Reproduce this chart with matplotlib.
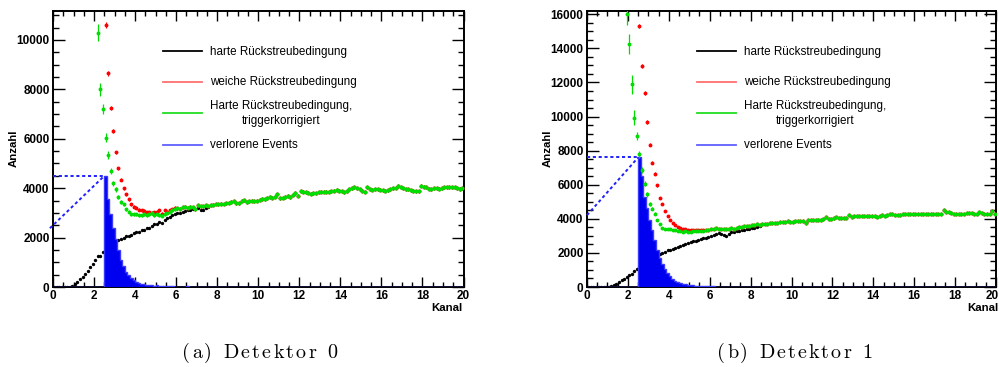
import numpy as np
import matplotlib
matplotlib.use("Agg")
import matplotlib.pyplot as plt
import matplotlib.transforms as mtransforms
from matplotlib.ticker import MultipleLocator

# ---------------------------------------------------------------- data
BIN_WIDTH = 0.125
N_BINS = 160
X_MAX = 20.0
POINT_ERR = 60          # typical error bar on the plateau points

x_ticks = [0, 2, 4, 6, 8, 10, 12, 14, 16, 18, 20]
left_y_ticks = [0, 2000, 4000, 6000, 8000, 10000]
right_y_ticks = [0, 2000, 4000, 6000, 8000, 10000, 12000, 14000, 16000]

legend_labels = ["harte Rückstreubedingung",
                 "weiche Rückstreubedingung",
                 "Harte Rückstreubedingung,\ntriggerkorrigiert",
                 "verlorene Events"]
captions = ["(a) Detektor 0", "(b) Detektor 1"]

# ---- Detektor 0
# plateau shared by all conditions (bins 48..159)
left_common = [3180, 3160, 3220, 3240, 3200, 3250, 3230, 3150, 3300, 3260, 3270, 3300,
               3280, 3310, 3330, 3360, 3350, 3370, 3360, 3400, 3420, 3450, 3480, 3390,
               3400, 3490, 3520, 3440, 3480, 3500, 3470, 3500, 3540, 3580, 3560, 3620,
               3650, 3610, 3660, 3760, 3600, 3620, 3660, 3690, 3640, 3730, 3820, 3690,
               3870, 3850, 3830, 3820, 3770, 3790, 3800, 3830, 3850, 3860, 3850, 3860,
               3870, 3900, 3930, 3900, 3880, 3830, 3880, 3950, 3990, 4030, 3990, 3950,
               3900, 3860, 4030, 3960, 3930, 3950, 3960, 3930, 3920, 3900, 3910, 3950,
               3990, 4020, 4090, 4030, 3990, 3960, 3950, 3910, 3890, 3870, 3880, 4100,
               4060, 4030, 3970, 3950, 3990, 4000, 3980, 4000, 4030, 4040, 4030, 4040,
               4040, 4000, 3950, 3990]
LEFT_COMMON_START = 48
# harte Rückstreubedingung, bins 0..60
left_hard_head = [0, 0, 0, 0, 0, 0, 10, 50, 120, 210, 310, 410, 530, 660, 800, 950,
                  1080, 1250, 1260, 1400, 1550, 1650, 1750, 1820, 1870, 1900, 1950,
                  2000, 2050, 2060, 2120, 2180, 2230, 2240, 2300, 2320, 2380, 2400,
                  2470, 2540, 2560, 2650, 2600, 2700, 2780, 2850, 2920, 2950, 2980,
                  3000, 3020, 3080, 3100, 3130, 3150, 3170, 3190, 3120, 3100, 3200, 3250]
# weiche Rückstreubedingung, bins 20..47
LEFT_SOFT_START = 20
left_soft_head = [10600, 8650, 7250, 6300, 5450, 4800, 4350, 4000, 3750, 3550, 3350,
                  3250, 3200, 3130, 3100, 3080, 3020, 3030, 3000, 3020, 3050, 3100,
                  2960, 3100, 3050, 3100, 3150, 3200]
left_soft_err = [110, 100, 90, 80, 75, 70]
# triggerkorrigiert, bins 17..47
LEFT_CORR_START = 17
left_corr_head = [10300, 8000, 7200, 6050, 5350, 4700, 4200, 3950, 3650, 3450, 3350,
                  3150, 3050, 2950, 2950, 2950, 2900, 2900, 2950, 2900, 2950, 2980,
                  2900, 2950, 2900, 2880, 2950, 3000, 3050, 3100, 3150]
left_corr_err = [340, 270, 200, 170, 150, 130, 110, 100, 90, 80]
# verlorene Events, bins 20..
LEFT_LOST_START = 20
left_lost = [4500, 3550, 2950, 2400, 1930, 1480, 1090, 830, 615, 480, 360, 290, 210,
             165, 135, 110, 100, 90, 70, 60, 70, 50, 40, 35, 30, 25, 30, 20, 15, 20,
             10, 15, 25, 10, 5, 10, 5, 0, 10, 5, 0, 5, 0, 0, 5]
left_guide_x = [-0.15, 2.5]
left_guide_y = [2380, 4500]

# ---- Detektor 1
right_common = [3380, 3420, 3450, 3400, 3390, 3420, 3400, 3430, 3450, 3420, 3480, 3500,
                3520, 3580, 3560, 3600, 3620, 3640, 3680, 3660, 3700, 3720, 3700, 3740,
                3730, 3760, 3780, 3800, 3790, 3820, 3850, 3830, 3840, 3870, 3860, 3880,
                3870, 3750, 3940, 3920, 3950, 3930, 3960, 3950, 3980, 4110, 3990, 4000,
                4020, 4080, 4060, 4070, 4040, 4030, 4220, 4120, 4150, 4140, 4170, 4160,
                4180, 4190, 4170, 4160, 4150, 4120, 4180, 4220, 4190, 4250, 4300, 4270,
                4240, 4250, 4240, 4260, 4280, 4270, 4290, 4300, 4280, 4290, 4300, 4310,
                4300, 4290, 4300, 4300, 4290, 4300, 4310, 4500, 4420, 4380, 4340, 4300,
                4290, 4310, 4300, 4310, 4350, 4360, 4330, 4290, 4260, 4400, 4350, 4310,
                4280, 4300, 4460, 4270]
RIGHT_COMMON_START = 48
right_hard_head = [0, 0, 0, 0, 0, 0, 0, 0, 0, 30, 100, 200, 290, 390, 490, 590, 690,
                   790, 920, 1060, 1170, 1300, 1450, 1550, 1650, 1750, 1800, 1850,
                   1930, 1980, 2050, 2150, 2200, 2250, 2280, 2350, 2400, 2480, 2550,
                   2600, 2650, 2700, 2720, 2760, 2820, 2850, 2900, 2960, 3000, 3050,
                   3100, 3150, 3130, 3050, 3000, 3100, 3200, 3230, 3260, 3300, 3320,
                   3340, 3380, 3400, 3450, 3480, 3530, 3560]
RIGHT_SOFT_START = 20
right_soft_head = [15300, 12950, 11390, 9670, 8360, 7300, 6650, 5970, 5250, 4850, 4450,
                   4150, 3950, 3780, 3640, 3540, 3480, 3420, 3380, 3360, 3350, 3340,
                   3330, 3340, 3330, 3330, 3350, 3340]
right_soft_err = [130, 120, 110, 100, 90, 85, 80, 75]
RIGHT_CORR_START = 15
right_corr_head = [16000, 14280, 11890, 9930, 8850, 7790, 6850, 6070, 5440, 4890, 4600,
                   4300, 3910, 3680, 3460, 3400, 3400, 3380, 3370, 3350, 3300, 3270,
                   3250, 3280, 3230, 3250, 3260, 3280, 3290, 3300, 3310, 3330, 3330]
right_corr_err = [600, 590, 540, 440, 250, 200, 180, 150, 130, 110, 100, 90]
RIGHT_LOST_START = 20
right_lost = [7600, 6500, 5300, 4650, 3950, 3330, 2740, 2150, 1720, 1350, 1050, 800,
              620, 480, 360, 280, 220, 180, 150, 130, 110, 100, 80, 70, 60, 60, 50, 40,
              35, 30, 25, 20, 15, 20, 10, 10, 5, 10, 5, 0, 5, 0, 0, 5, 0, 5]
right_guide_x = [0.0, 2.5]
right_guide_y = [4210, 7600]

# ---------------------------------------------------------------- helpers
edges = np.linspace(0, X_MAX, N_BINS + 1)
centers = 0.5 * (edges[:-1] + edges[1:])
X_ERR_DRAWN = 0.045     # half-length of the small horizontal marker arms


def series(head, start, common, common_start):
    arr = np.full(N_BINS, np.nan)
    head = np.asarray(head, float)
    arr[start:start + len(head)] = head
    tail_from = start + len(head)
    arr[tail_from:] = np.asarray(common, float)[tail_from - common_start:]
    return arr


def errors(head_err, start):
    arr = np.full(N_BINS, float(POINT_ERR))
    arr[start:start + len(head_err)] = head_err
    return arr


def lost_hist(vals, start):
    arr = np.zeros(N_BINS)
    arr[start:start + len(vals)] = vals
    return arr


FONT = "Liberation Sans"
FIG_W, FIG_H = 999, 367

fig = plt.figure(figsize=(FIG_W / 100, FIG_H / 100), dpi=100)
renderer = fig.canvas.get_renderer()


def spaced_caption(cx_px, baseline_px, s, total_px, **kw):
    """Draw letter-spaced text centred at cx_px with given total width."""
    def width(txt):
        t = fig.text(0, 0, txt, **kw)
        w = t.get_window_extent(renderer).width
        t.remove()
        return w
    ref = width("x")
    offs = [width(s[:i] + "x") - ref if i > 0 else 0.0 for i in range(len(s))]
    natural = width(s)
    extra = (total_px - natural) / (len(s) - 1)
    left = cx_px - total_px / 2
    for i, ch in enumerate(s):
        if ch == " ":
            continue
        fig.text((left + offs[i] + i * extra) / FIG_W, (FIG_H - baseline_px) / FIG_H,
                 ch, ha="left", va="baseline", **kw)


panels = [
    dict(box=(53, 11, 463.5, 287), ymax=11174, yticks=left_y_ticks,
         hard=series(left_hard_head, 0, left_common, LEFT_COMMON_START),
         soft=series(left_soft_head, LEFT_SOFT_START, left_common, LEFT_COMMON_START),
         soft_err=errors(left_soft_err, LEFT_SOFT_START),
         corr=series(left_corr_head, LEFT_CORR_START, left_common, LEFT_COMMON_START),
         corr_err=errors(left_corr_err, LEFT_CORR_START),
         lost=lost_hist(left_lost, LEFT_LOST_START),
         gx=left_guide_x, gy=left_guide_y, last_label_shift=0,
         ylabel_pos=(13.5, 148), xlabel_pos=(463, 308), caption_pos=(259.5, 358.3),
         caption=captions[0]),
    dict(box=(587, 11, 996, 287), ymax=16195, yticks=right_y_ticks,
         hard=series(right_hard_head, 0, right_common, RIGHT_COMMON_START),
         soft=series(right_soft_head, RIGHT_SOFT_START, right_common, RIGHT_COMMON_START),
         soft_err=errors(right_soft_err, RIGHT_SOFT_START),
         corr=series(right_corr_head, RIGHT_CORR_START, right_common, RIGHT_COMMON_START),
         corr_err=errors(right_corr_err, RIGHT_CORR_START),
         lost=lost_hist(right_lost, RIGHT_LOST_START),
         gx=right_guide_x, gy=right_guide_y, last_label_shift=-4,
         ylabel_pos=(548, 148), xlabel_pos=(999, 308), caption_pos=(794.5, 358.3),
         caption=captions[1]),
]

RED = "#ff0000"
GREEN = "#00dd00"
BLUE = "#0000f0"

for p in panels:
    l, t, r, b = p["box"]
    ax = fig.add_axes([l / FIG_W, (FIG_H - b) / FIG_H, (r - l) / FIG_W, (b - t) / FIG_H])
    ax.set_xlim(0, X_MAX)
    ax.set_ylim(0, p["ymax"])

    # harte Rückstreubedingung (black)
    m = ~np.isnan(p["hard"])
    ax.errorbar(centers[m], p["hard"][m], xerr=X_ERR_DRAWN, yerr=35, fmt="o", ms=1.4,
                color="black", elinewidth=0.7, capsize=0, zorder=2)
    # verlorene Events (blue histogram)
    ax.stairs(p["lost"], edges, fill=True, color=BLUE, zorder=3)
    ax.stairs(p["lost"], edges, fill=False, color="#3a3aff", lw=1.0, zorder=3.1)
    # weiche Rückstreubedingung (red)
    m = ~np.isnan(p["soft"])
    ax.errorbar(centers[m], p["soft"][m], xerr=X_ERR_DRAWN, yerr=p["soft_err"][m],
                fmt="o", ms=1.8, color=RED, elinewidth=0.8, capsize=0, zorder=4)
    # triggerkorrigiert (green)
    m = ~np.isnan(p["corr"])
    ax.errorbar(centers[m], p["corr"][m], xerr=X_ERR_DRAWN, yerr=p["corr_err"][m],
                fmt="o", ms=1.8, color=GREEN, elinewidth=0.9, capsize=0, zorder=5)
    # guide lines
    peak = max(p["lost"])
    ax.plot([0, edges[np.argmax(p["lost"])]], [peak, peak], color="#2020ff",
            ls=(0, (1.6, 1.4)), lw=1.4, zorder=6, clip_on=False)
    ax.plot(p["gx"], p["gy"], color="#2020ff", ls=(0, (1.6, 1.4)), lw=1.4, zorder=6,
            clip_on=False)

    # axes styling
    for s in ax.spines.values():
        s.set_linewidth(1.4)
    ax.set_xticks(x_ticks)
    ax.set_yticks(p["yticks"])
    ax.xaxis.set_minor_locator(MultipleLocator(0.5))
    ax.yaxis.set_minor_locator(MultipleLocator(500))
    ax.tick_params(which="both", direction="in", top=True, right=True, width=1.0,
                   labelsize=8.5, pad=2.5)
    ax.tick_params(axis="y", which="major", length=8.5)
    ax.tick_params(axis="y", which="minor", length=4)
    ax.tick_params(axis="x", which="major", length=7.5)
    ax.tick_params(axis="x", which="minor", length=3.8)
    for lab in ax.get_xticklabels() + ax.get_yticklabels():
        lab.set_fontfamily(FONT)
        lab.set_fontweight("bold")
    if p["last_label_shift"]:
        last = ax.get_xticklabels()[-1]
        last.set_transform(last.get_transform() + mtransforms.ScaledTranslation(
            p["last_label_shift"] / 100, 0, fig.dpi_scale_trans))

    # legend (drawn by hand, ROOT style)
    def ax_frac(px, py):
        return (px - l) / (r - l), (b - py) / (b - t)

    leg_colors = ["black", "#ff7070", "#22dd22", "#6060ff"]
    leg_y = [51, 81.5, 113, 145]
    text_y = [51.5, 82.3, 106, 144.5]
    for i, (c, yy) in enumerate(zip(leg_colors, leg_y)):
        x0, y0 = ax_frac(l + 110.3, yy)
        x1, _ = ax_frac(l + 149, yy)
        ax.plot([x0, x1], [y0, y0], transform=ax.transAxes, color=c, lw=1.3,
                clip_on=False, zorder=7)
    for i, lab in enumerate(legend_labels):
        if "\n" in lab:
            first, second = lab.split("\n")
            xx, yy = ax_frac(l + 157, text_y[i])
            ax.text(xx, yy, first, transform=ax.transAxes, fontsize=8.4,
                    family=FONT, va="center", ha="left", zorder=8)
            xc, yc = ax_frac(l + 228, 121)
            ax.text(xc, yc, second, transform=ax.transAxes, fontsize=8.4,
                    family=FONT, va="center", ha="center", zorder=8)
        else:
            xx, yy = ax_frac(l + 157, text_y[i])
            ax.text(xx, yy, lab, transform=ax.transAxes, fontsize=8.4,
                    family=FONT, va="center", ha="left", zorder=8)

    # axis titles
    fx, fy = p["ylabel_pos"]
    fig.text(fx / FIG_W, (FIG_H - fy) / FIG_H, "Anzahl", rotation=90, ha="center",
             va="center", fontsize=8.2, fontweight="bold", family=FONT)
    fx, fy = p["xlabel_pos"]
    fig.text(fx / FIG_W, (FIG_H - fy) / FIG_H, "Kanal", ha="right", va="center",
             fontsize=8.2, fontweight="bold", family=FONT)
    fx, fy = p["caption_pos"]
    spaced_caption(fx, fy, p["caption"], 155, fontsize=14.5, family="cmr10")

fig.savefig("out.png", dpi=100)
